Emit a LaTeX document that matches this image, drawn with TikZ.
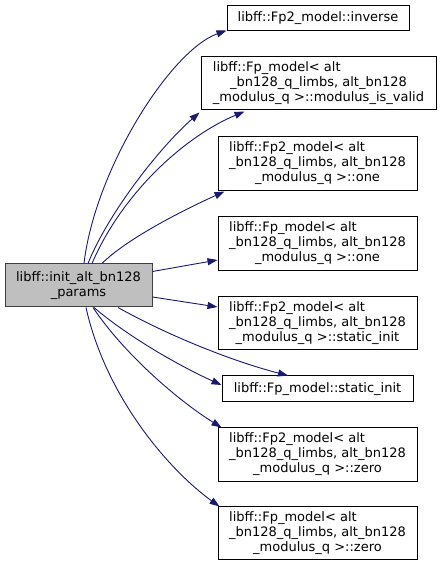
\documentclass[tikz,border=0pt]{standalone}
\usepackage{fontspec}
\setmainfont{DejaVu Sans}
\usetikzlibrary{arrows.meta}
\definecolor{edgeblue}{RGB}{25,25,112}
\definecolor{maingray}{RGB}{191,191,191}
\definecolor{mainline}{RGB}{64,64,64}

\begin{document}
\begin{tikzpicture}[x=1pt,y=1pt,
  every node/.style={font=\fontsize{13}{15}\selectfont,inner sep=0pt},
  fnbox/.style={draw=black,line width=1pt,fill=white},
  mainbox/.style={draw=mainline,line width=1pt,fill=maingray,align=center},
  call/.style={draw=edgeblue,line width=0.9pt,-{Triangle[length=10pt,width=7pt]}}]
\newcommand{\tplabel}[3]{%
  \begin{tabular}{@{}c@{}}\multicolumn{1}{@{}l@{}}{#1}\\#2\\#3\end{tabular}}
\useasboundingbox (0,0) rectangle (441,568);

\node[mainbox,minimum width=147,minimum height=43] (main) at (78.5,282.5)
  {libff::init\_alt\_bn128\\\_params};

\node[fnbox,minimum width=182,minimum height=25] (inv) at (318,549.5)
  {libff::Fp2\_model::inverse};
\node[fnbox,minimum width=235,minimum height=53] (valid) at (318.5,484.5)
  {\tplabel{libff::Fp\_model< alt}{\_bn128\_q\_limbs, alt\_bn128}{\_modulus\_q >::modulus\_is\_valid}};
\node[fnbox,minimum width=199,minimum height=54] (fptwoone) at (317.5,404)
  {\tplabel{libff::Fp2\_model< alt}{\_bn128\_q\_limbs, alt\_bn128}{\_modulus\_q >::one}};
\node[fnbox,minimum width=199,minimum height=54] (fpone) at (317.5,324)
  {\tplabel{libff::Fp\_model< alt}{\_bn128\_q\_limbs, alt\_bn128}{\_modulus\_q >::one}};
\node[fnbox,minimum width=199,minimum height=53] (fptwosi) at (317.5,244.5)
  {\tplabel{libff::Fp2\_model< alt}{\_bn128\_q\_limbs, alt\_bn128}{\_modulus\_q >::static\_init}};
\node[fnbox,minimum width=191,minimum height=26] (fpsi) at (317.5,179)
  {libff::Fp\_model::static\_init};
\node[fnbox,minimum width=199,minimum height=54] (fptwozero) at (317.5,113)
  {\tplabel{libff::Fp2\_model< alt}{\_bn128\_q\_limbs, alt\_bn128}{\_modulus\_q >::zero}};
\node[fnbox,minimum width=199,minimum height=53] (fpzero) at (317.5,34.5)
  {\tplabel{libff::Fp\_model< alt}{\_bn128\_q\_limbs, alt\_bn128}{\_modulus\_q >::zero}};

\draw[call] ([xshift=5.5pt]main.north) .. controls +(11,94) and +(-56,-20) .. ([yshift=1pt]inv.south west);
\draw[call] ([xshift=9.5pt]main.north) .. controls +(20,50) and +(-40,-35) .. ([xshift=-1pt,yshift=-2pt]valid.south west);
\draw[call] ([xshift=13.5pt]main.north) .. controls +(30,70) and +(-60,-25) .. ([xshift=44pt,yshift=-1pt]valid.south west);
\draw[call] ([xshift=23.5pt]main.north) .. controls +(25,25) and +(-40,-18) .. ([xshift=7pt]fptwoone.south west);
\draw[call] ([yshift=14pt]main.east) -- ([yshift=-16pt]fpone.west);
\draw[call] ([yshift=-11.5pt]main.east) -- ([yshift=16.5pt]fptwosi.west);
\draw[call] ([xshift=39.5pt]main.south) .. controls +(50,-28) and +(-55,14) .. ([xshift=-29.5pt]fpsi.north);
\draw[call] ([xshift=15.5pt]main.south) .. controls +(35,-30) and +(-40,18) .. ([yshift=4pt]fpsi.west);
\draw[call] ([xshift=14.5pt]main.south) .. controls +(30,-45) and +(-45,28) .. ([xshift=4pt]fptwozero.north west);
\draw[call] ([xshift=7.5pt]main.south) .. controls +(20,-90) and +(-50,36) .. ([xshift=2pt]fpzero.north west);
\end{tikzpicture}
\end{document}
